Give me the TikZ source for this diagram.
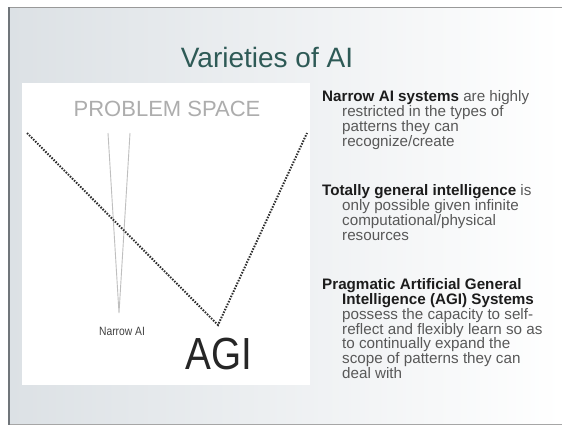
\documentclass[tikz,border=0pt]{standalone}
\usepackage{fontspec}
\setmainfont{Liberation Sans}
\newfontfamily\narrowsans[FakeStretch=0.86]{Liberation Sans}
\usetikzlibrary{shadings}
\definecolor{titleteal}{HTML}{2E5A56}
\definecolor{bodygrey}{HTML}{585858}
\definecolor{boldink}{HTML}{1C1C1C}
\definecolor{frameedge}{HTML}{70757A}
\definecolor{slideleft}{HTML}{DCE1E5}
\tikzset{
  para/.style={anchor=north west, inner sep=0pt, align=left,
    font=\fontsize{15.2}{14.8}\selectfont, text=bodygrey},
  narrowline/.style={draw=black!25, line width=0.9pt},
  dotline/.style={draw=black!82, line width=2pt, dash pattern=on 1.5pt off 1.4pt}
}
\newcommand{\hd}[1]{\textbf{\textcolor{boldink}{#1}}}
\newcommand{\ind}{\hspace*{20pt}}
\begin{document}
\begin{tikzpicture}[x=1pt,y=-1pt]
  \useasboundingbox (0,0) rectangle (562,426);
  \fill[white] (0,0) rectangle (562,426);
  % slide background with soft gradient
  \shade[left color=slideleft, right color=white] (9,7) rectangle (562,424);
  \draw[black!40, line width=0.8pt] (9,7) -- (562,7);
  \draw[black!35, line width=0.8pt] (9,424) -- (562,424);
  \draw[frameedge, line width=2pt] (9,7) -- (9,425);

  % title
  \node[font=\fontsize{28}{32}\selectfont, text=titleteal] (title) at (267,57) {Varieties of AI};

  % white panel holding the sketch
  \fill[white] (22,83) rectangle (310,385);
  \node[font=\fontsize{22}{24}\selectfont, text=black!32] (space) at (167,108.5) {PROBLEM SPACE};

  % narrow AI wedge
  \coordinate (nl) at (108,133);
  \coordinate (nr) at (130,133);
  \coordinate (ntip) at (119,313);
  \draw[narrowline] (nl) -- (ntip) -- (nr);

  % general intelligence V
  \coordinate (gl) at (27,133);
  \coordinate (gtip) at (218,325);
  \coordinate (gr) at (307,133);
  \draw[dotline] (gl) -- (gtip) -- (gr);

  \node[font=\narrowsans\fontsize{12}{13}\selectfont, text=black!75] (narrow) at (122,331) {Narrow AI};
  \node[font=\narrowsans\fontsize{45}{48}\selectfont, text=black!85] (agi) at (219,354) {AGI};

  % explanatory text
  \node[para] (p1) at (322,90.5) {\hd{Narrow AI systems} are highly\\
    \ind restricted in the types of\\
    \ind patterns they can\\
    \ind recognize/create};
  \node[para] (p2) at (322,184.5) {\hd{Totally general intelligence} is\\
    \ind only possible given infinite\\
    \ind computational/physical\\
    \ind resources};
  \node[para] (p3) at (322,278.5) {\hd{Pragmatic Artificial General}\\
    \ind\hd{Intelligence (AGI) Systems}\\
    \ind possess the capacity to self-\\
    \ind reflect and flexibly learn so as\\
    \ind to continually expand the\\
    \ind scope of patterns they can\\
    \ind deal with};
\end{tikzpicture}
\end{document}
